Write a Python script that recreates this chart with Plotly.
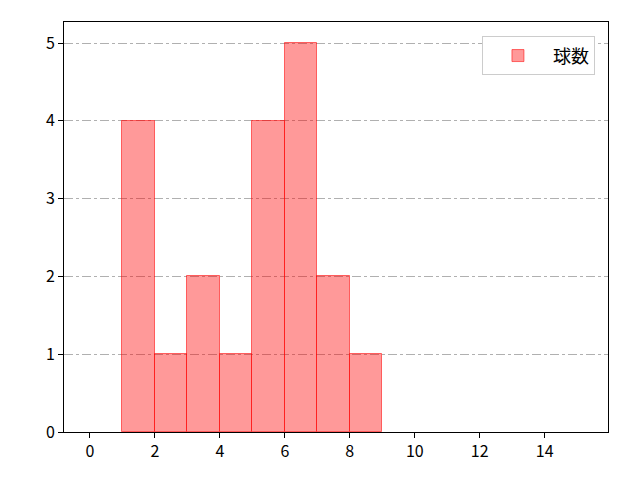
import plotly.graph_objects as go

# histogram bins (left edges) and counts
bin_left = [1, 2, 3, 4, 5, 6, 7, 8]
counts = [4, 1, 2, 1, 4, 5, 2, 1]
bin_width = 1
x_ticks = [0, 2, 4, 6, 8, 10, 12, 14]
y_ticks = [0, 1, 2, 3, 4, 5]

font_family = "Noto Sans CJK JP, DejaVu Sans, sans-serif"

fig = go.Figure()
fig.add_trace(go.Bar(
    x=[b + bin_width / 2 for b in bin_left],
    y=counts,
    width=bin_width,
    name="球数",
    marker=dict(color="rgba(255,0,0,0.4)",
                line=dict(color="rgba(255,0,0,0.55)", width=1)),
    showlegend=True,
))

fig.update_layout(
    width=640, height=480,
    margin=dict(l=56, r=40, t=14, b=56),
    paper_bgcolor="white", plot_bgcolor="white",
    font=dict(family=font_family, size=16, color="black"),
    bargap=0,
    showlegend=True,
    legend=dict(x=0.976, y=0.965, xanchor="right", yanchor="top",
                bordercolor="#cccccc", borderwidth=1, bgcolor="white",
                font=dict(size=18), itemwidth=60),
)
fig.update_xaxes(
    range=[-0.8, 15.95], tickvals=x_ticks, showgrid=False,
    showline=True, linecolor="black", linewidth=1, mirror=True,
    ticks="outside", ticklen=5, tickcolor="black", zeroline=False,
)
fig.update_yaxes(
    range=[0, 5.27], tickvals=y_ticks, showgrid=True,
    gridcolor="#b0b0b0", griddash="dashdot", gridwidth=0.8,
    showline=True, linecolor="black", linewidth=1, mirror=True,
    ticks="outside", ticklen=5, tickcolor="black", zeroline=False,
)

fig.write_html("out.html")
